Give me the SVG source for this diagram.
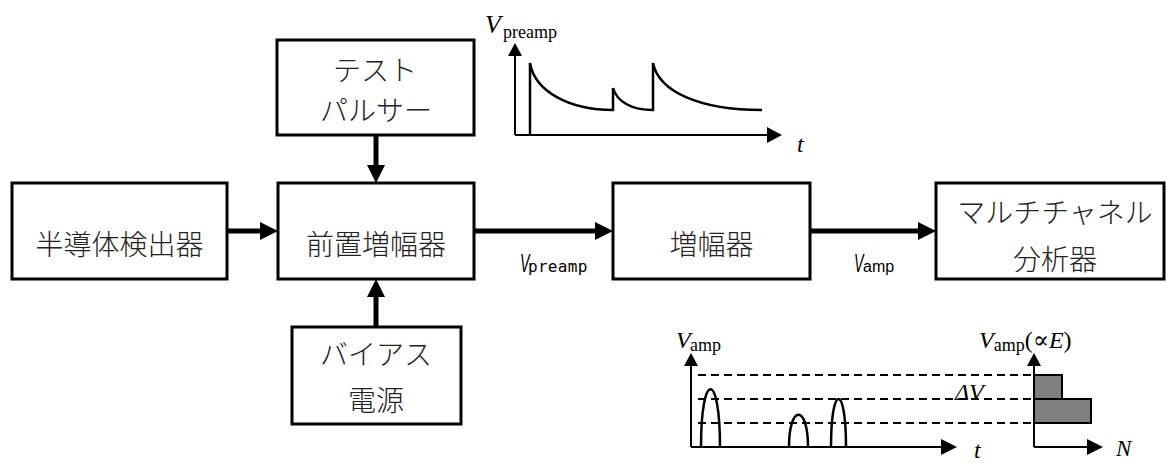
<svg xmlns="http://www.w3.org/2000/svg" width="1166" height="463" viewBox="0 0 1166 463">
<style>
.box{fill:#fff;stroke:#000;stroke-width:3}
.jp{font-family:"Noto Sans CJK JP","Noto Sans",sans-serif;font-size:28px;font-weight:300;fill:#222;text-anchor:middle}
.conn{stroke:#000;stroke-width:5;fill:none}
.head{fill:#000}
.ax{stroke:#000;stroke-width:2;fill:none}
.crv{stroke:#000;stroke-width:2.5;fill:none}
.dash{stroke:#000;stroke-width:2;stroke-dasharray:8 5;fill:none}
.ser{font-family:"Liberation Serif","DejaVu Serif",serif;fill:#000}
.it{font-style:italic}
.mono{font-family:"DejaVu Sans Mono","Liberation Mono",monospace;font-size:16px;fill:#000}
.sans{font-family:"Liberation Sans",Arial,sans-serif;fill:#000}
</style>
<rect width="1166" height="463" fill="#fff"/>

<g id="connectors">
  <line class="conn" x1="227" y1="231" x2="262" y2="231"/>
  <polygon class="head" points="260,222 278,231 260,240"/>
  <line class="conn" x1="376" y1="135" x2="376" y2="167"/>
  <polygon class="head" points="367,165 376,183 385,165"/>
  <line class="conn" x1="376" y1="327" x2="376" y2="295"/>
  <polygon class="head" points="367,297 376,279 385,297"/>
  <line class="conn" x1="474" y1="231" x2="597" y2="231"/>
  <polygon class="head" points="595,222 613,231 595,240"/>
  <line class="conn" x1="810" y1="231" x2="920" y2="231"/>
  <polygon class="head" points="918,222 936,231 918,240"/>
  <g id="label-vpreamp">
    <text class="sans it" font-size="26" transform="translate(520,272) scale(0.55,1)">V</text>
    <text class="mono" x="528" y="272" letter-spacing="0.3">preamp</text>
  </g>
  <g id="label-vamp">
    <text class="sans it" font-size="26" transform="translate(854,272) scale(0.55,1)">V</text>
    <text class="sans" font-size="16" x="863" y="272">amp</text>
  </g>
</g>

<g id="detector">
  <rect class="box" x="12" y="183" width="215" height="96"/>
  <text class="jp" x="119.5" y="255">半導体検出器</text>
</g>
<g id="preamp">
  <rect class="box" x="278" y="183" width="196" height="96"/>
  <text class="jp" x="376" y="255">前置増幅器</text>
</g>
<g id="pulser">
  <rect class="box" x="277" y="40" width="197" height="95"/>
  <text class="jp" x="375" y="81">テスト</text>
  <text class="jp" x="376" y="121">パルサー</text>
</g>
<g id="bias">
  <rect class="box" x="292" y="327" width="169" height="97"/>
  <text class="jp" x="376" y="365">バイアス</text>
  <text class="jp" x="376" y="411">電源</text>
</g>
<g id="amp">
  <rect class="box" x="613" y="183" width="197" height="96"/>
  <text class="jp" x="711.5" y="255">増幅器</text>
</g>
<g id="mca">
  <rect class="box" x="936" y="183" width="228" height="96"/>
  <text class="jp" x="1055" y="223">マルチチャネル</text>
  <text class="jp" x="1055" y="270">分析器</text>
</g>

<g id="graph-preamp">
  <line class="ax" x1="515" y1="135" x2="515" y2="55"/>
  <polygon class="head" points="508,56 515,43 522,56"/>
  <line class="ax" x1="515" y1="135" x2="768" y2="135"/>
  <polygon class="head" points="767,127 782,135 767,143"/>
  <path class="crv" d="M530,135 V63 C535,92 570,110 613,110 V88 C617,102 632,110 653,110 V63 C659,92 700,110 762,110"/>
  <text class="ser it" font-size="26" x="485" y="33">V</text>
  <text class="ser" font-size="18" x="503" y="38">preamp</text>
  <text class="ser it" font-size="24" x="797" y="152">t</text>
</g>

<g id="graph-amp">
  <line class="ax" x1="691" y1="447" x2="691" y2="365"/>
  <polygon class="head" points="684,366 691,353 698,366"/>
  <line class="ax" x1="691" y1="447" x2="942" y2="447"/>
  <polygon class="head" points="941,439 957,447 941,455"/>
  <line class="dash" x1="698" y1="375" x2="1032" y2="375"/>
  <line class="dash" x1="698" y1="399" x2="1032" y2="399"/>
  <line class="dash" x1="698" y1="423" x2="1032" y2="423"/>
  <path class="crv" d="M701,447 C701,370 720,370 720,447"/>
  <path class="crv" d="M789,447 C789,404 808,404 808,447"/>
  <path class="crv" d="M831,447 C831,383 846,383 846,447"/>
  <text class="ser it" font-size="24" x="676" y="348">V</text>
  <text class="ser" font-size="18" x="690" y="351">amp</text>
  <text class="ser it" font-size="24" x="974" y="458">t</text>
</g>

<g id="histogram">
  <rect x="1034" y="375" width="28" height="24" fill="#808080" stroke="#000" stroke-width="2"/>
  <rect x="1034" y="399" width="57" height="24" fill="#808080" stroke="#000" stroke-width="2"/>
  <line class="ax" x1="1034" y1="447" x2="1034" y2="365"/>
  <polygon class="head" points="1027,366 1034,353 1041,366"/>
  <line class="ax" x1="1034" y1="447" x2="1088" y2="447"/>
  <polygon class="head" points="1087,439 1103,447 1087,455"/>
  <text class="ser" x="979" y="348"><tspan class="it" font-size="24">V</tspan><tspan font-size="18" dy="3">amp</tspan><tspan font-size="24" dy="-3">(</tspan><tspan font-family="DejaVu Serif" font-size="24">∝</tspan><tspan class="it" font-size="24">E</tspan><tspan font-size="24">)</tspan></text>
  <text class="ser it" font-size="24" x="955" y="400">ΔV</text>
  <text class="ser it" font-size="23" x="1116" y="456">N</text>
</g>
</svg>
